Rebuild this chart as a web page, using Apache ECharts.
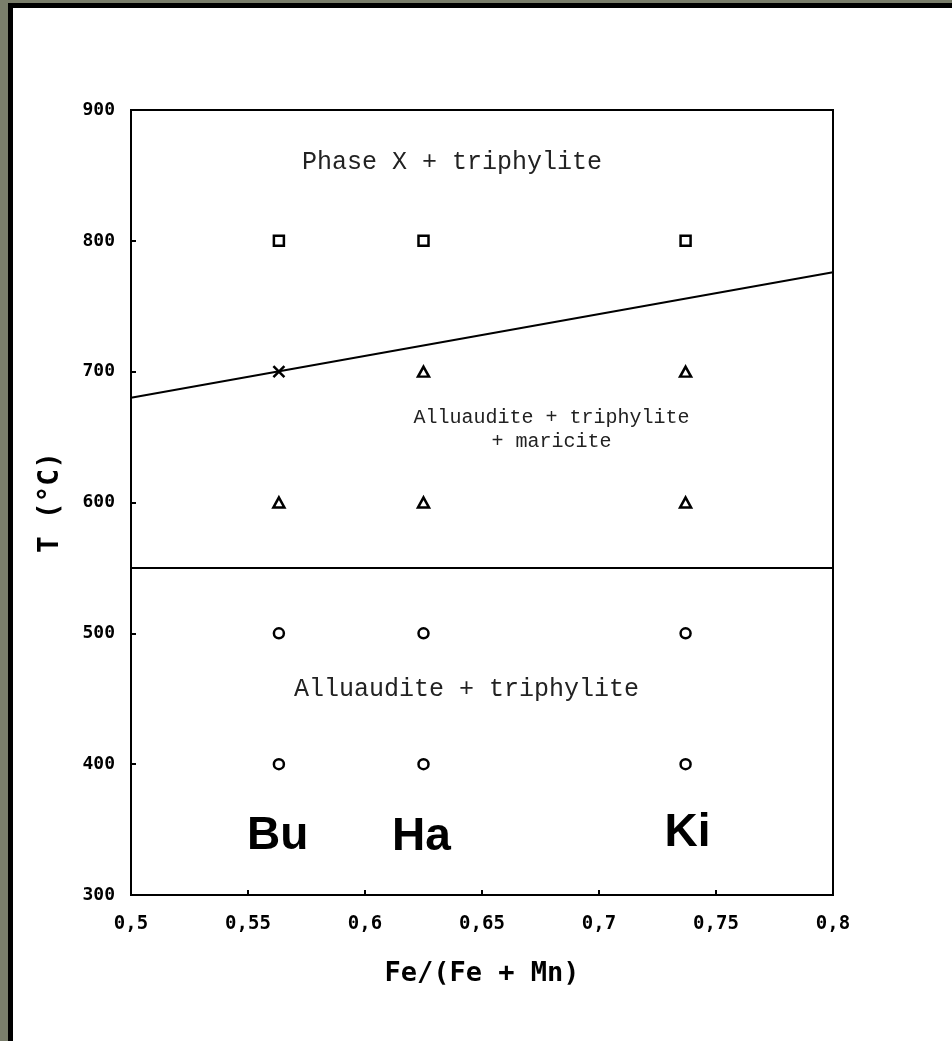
<!DOCTYPE html>
<html>
<head>
<meta charset="utf-8">
<script src="https://cdn.jsdelivr.net/npm/echarts@6/dist/echarts.min.js"></script>
<style>
  html, body { margin: 0; padding: 0; width: 952px; height: 1041px; background: #7a7e6b; overflow: hidden; }
  #frame { position: absolute; left: 8px; top: 3px; right: 0; bottom: 0; background: #000; }
  #chart { position: absolute; left: 13px; top: 8px; width: 939px; height: 1033px; background: #fff; }
</style>
</head>
<body>
<div id="frame"></div>
<div id="chart"></div>
<script>
// Sample compositions Fe/(Fe+Mn) and annealing temperatures (°C)
const squarePts   = [[0.5632, 800], [0.625, 800], [0.737, 800]];
const crossPts    = [[0.5632, 700]];
const trianglePts = [[0.625, 700], [0.737, 700], [0.5632, 600], [0.625, 600], [0.737, 600]];
const circlePts   = [[0.5632, 500], [0.625, 500], [0.737, 500], [0.5632, 400], [0.625, 400], [0.737, 400]];

// Phase boundaries
const upperBoundary = [[0.5, 680], [0.8, 776]];
const lowerBoundary = [[0.5, 550], [0.8, 550]];

// Phase-field labels
const fieldLabels = [
  { value: [0.6372, 860], text: 'Phase X + triphylite', size: 25 },
  { value: [0.6434, 457], text: 'Alluaudite + triphylite', size: 25 },
  { value: [0.6797, 656], text: 'Alluaudite + triphylite\n+ maricite', size: 20 }
];
// Sample names
const sampleLabels = [
  { value: [0.5627, 345], text: 'Bu' },
  { value: [0.6241, 344], text: 'Ha' },
  { value: [0.7378, 347], text: 'Ki' }
];

const xTicks = { min: 0.5, max: 0.8, interval: 0.05 };
const yTicks = { min: 300, max: 900, interval: 100 };

const monoBold = { fontFamily: 'DejaVu Sans Mono', fontWeight: 'bold', color: '#000' };
const hollow = { color: '#fff', borderColor: '#000', borderWidth: 2.5, opacity: 1 };

const chart = echarts.init(document.getElementById('chart'), null, { renderer: 'canvas' });

chart.setOption({
  animation: false,
  backgroundColor: '#fff',
  grid: { left: 118, right: 119, top: 102, bottom: 146, show: true, borderColor: '#000', borderWidth: 2, backgroundColor: 'transparent' },
  xAxis: {
    type: 'value', min: xTicks.min, max: xTicks.max, interval: xTicks.interval,
    name: 'Fe/(Fe + Mn)', nameLocation: 'middle', nameGap: 65,
    nameTextStyle: Object.assign({ fontSize: 27 }, monoBold),
    axisLine: { lineStyle: { color: '#000', width: 2 } },
    axisTick: { inside: true, length: 5, lineStyle: { color: '#000', width: 2 } },
    axisLabel: Object.assign({ fontSize: 19, margin: 20,
      formatter: v => String(+v.toFixed(2)).replace('.', ',') }, monoBold),
    splitLine: { show: false }
  },
  yAxis: {
    type: 'value', min: yTicks.min, max: yTicks.max, interval: yTicks.interval,
    name: 'T (°C)', nameLocation: 'middle', nameGap: 66,
    nameTextStyle: Object.assign({ fontSize: 28 }, monoBold),
    axisLine: { lineStyle: { color: '#000', width: 2 } },
    axisTick: { inside: true, length: 5, lineStyle: { color: '#000', width: 2 } },
    axisLabel: Object.assign({ fontSize: 18, margin: 16 }, monoBold),
    splitLine: { show: false }
  },
  series: [
    { type: 'line', data: upperBoundary, symbol: 'none', lineStyle: { color: '#000', width: 2 }, z: 1 },
    { type: 'line', data: lowerBoundary, symbol: 'none', lineStyle: { color: '#000', width: 2 }, z: 1 },
    { type: 'scatter', data: squarePts, symbol: 'rect', symbolSize: 10, itemStyle: hollow, z: 3 },
    { type: 'scatter', data: trianglePts, symbol: 'triangle', symbolSize: [11, 10], itemStyle: hollow, z: 3 },
    { type: 'scatter', data: circlePts, symbol: 'circle', symbolSize: 10, itemStyle: hollow, z: 3 },
    { type: 'scatter', data: crossPts, symbol: 'path://M0,0L10,10M10,0L0,10', symbolSize: 11,
      itemStyle: { color: 'none', borderColor: '#000', borderWidth: 2.5, opacity: 1 }, z: 3 },
    { type: 'scatter', symbolSize: 0, silent: true, z: 4, itemStyle: { opacity: 1 },
      data: fieldLabels.map(d => ({ value: d.value,
        label: { show: true, formatter: d.text, fontSize: d.size, color: '#222' } })),
      label: { show: true, position: 'inside', fontFamily: 'Liberation Mono', color: '#222', align: 'center', verticalAlign: 'middle', lineHeight: 24 } },
    { type: 'scatter', symbolSize: 0, silent: true, z: 4, itemStyle: { opacity: 1 },
      data: sampleLabels.map(d => ({ value: d.value,
        label: { show: true, formatter: d.text, color: '#000' } })),
      label: { show: true, position: 'inside', fontFamily: 'Liberation Sans', fontWeight: 'bold', fontSize: 46, color: '#000', align: 'center', verticalAlign: 'middle' } }
  ]
});
</script>
</body>
</html>
